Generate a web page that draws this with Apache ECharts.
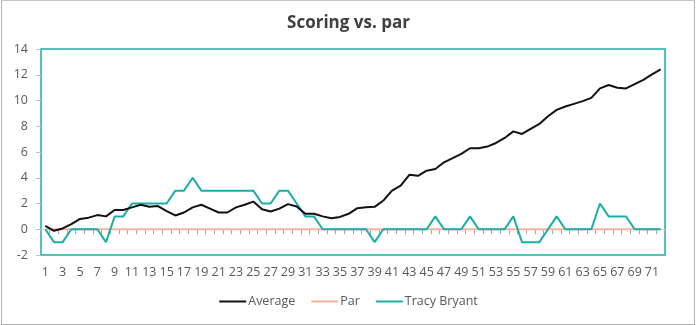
<!DOCTYPE html>
<html>
<head>
<meta charset="utf-8">
<script src="https://cdn.jsdelivr.net/npm/echarts@6/dist/echarts.min.js"></script>
<style>
  html, body { margin: 0; padding: 0; background: #fff; }
  #chart { width: 697px; height: 325px; }
  #frame { position: absolute; left: 1px; top: 0px; width: 694px; height: 325px; border: 1px solid #b0b0b0; border-top-color: #c8c8c8; pointer-events: none; box-sizing: border-box; }
</style>
</head>
<body>
<div id="chart"></div>
<div id="frame"></div>
<script>
// Holes 1..72
const holes = [];
for (let h = 1; h <= 72; h++) holes.push(String(h));

// Cumulative strokes relative to par
const average = [
  0.26, -0.12, 0.06, 0.4, 0.8, 0.9, 1.1, 1.0, 1.5, 1.5,
  1.7, 1.9, 1.75, 1.8, 1.4, 1.07, 1.3, 1.7, 1.9, 1.6,
  1.3, 1.3, 1.7, 1.9, 2.15, 1.55, 1.38, 1.6, 1.95, 1.77,
  1.2, 1.2, 1.0, 0.86, 0.96, 1.2, 1.64, 1.7, 1.74, 2.23,
  3.0, 3.38, 4.23, 4.15, 4.55, 4.68, 5.2, 5.53, 5.85, 6.29,
  6.29, 6.42, 6.7, 7.09, 7.6, 7.4, 7.8, 8.18, 8.78, 9.27,
  9.53, 9.74, 9.95, 10.2, 10.94, 11.2, 10.99, 10.94, 11.27, 11.6,
  12.03, 12.42
];
const par = holes.map(() => 0);
const tracyBryant = [
  0, -1, -1, 0, 0, 0, 0, -1, 1, 1,
  2, 2, 2, 2, 2, 3, 3, 4, 3, 3,
  3, 3, 3, 3, 3, 2, 2, 3, 3, 2,
  1, 1, 0, 0, 0, 0, 0, 0, -1, 0,
  0, 0, 0, 0, 0, 1, 0, 0, 0, 1,
  0, 0, 0, 0, 1, -1, -1, -1, 0, 1,
  0, 0, 0, 0, 2, 1, 1, 1, 0, 0,
  0, 0
];
const yTicks = { min: -2, max: 14, step: 2 };

const FONT = '"Open Sans", "Noto Sans", sans-serif';
const TEAL = '#1aaea8';
const SALMON = '#f6b5a3';
const GREY_TEXT = '#595959';

const chart = echarts.init(document.getElementById('chart'), null, { renderer: 'canvas' });
chart.setOption({
  animation: false,
  backgroundColor: '#ffffff',
  title: {
    text: 'Scoring vs. par',
    left: 'center',
    top: 10,
    textStyle: { fontFamily: FONT, fontSize: 17, fontWeight: 'bold', color: '#404040' }
  },
  legend: {
    bottom: 12,
    left: 'center',
    icon: 'rect',
    itemWidth: 27,
    itemHeight: 2,
    itemGap: 16,
    textStyle: { fontFamily: FONT, fontSize: 12.5, color: GREY_TEXT, padding: [0, 0, 0, -3] },
    data: ['Average', 'Par', 'Tracy Bryant']
  },
  grid: {
    left: 41, right: 32, top: 49, bottom: 70,
    show: true,
    borderColor: TEAL,
    borderWidth: 1.5,
    containLabel: false
  },
  xAxis: [
    {
      type: 'category',
      data: holes,
      boundaryGap: true,
      position: 'bottom',
      z: 5,
      axisLine: { show: true, onZero: true, lineStyle: { color: '#d0d0d0', width: 1 } },
      axisTick: { show: true, interval: 0, length: 5, lineStyle: { color: '#a8a8a8', width: 1 } },
      axisLabel: { show: false },
      splitLine: { show: false }
    },
    {
      type: 'category',
      data: holes,
      boundaryGap: true,
      position: 'bottom',
      axisLine: { show: false, onZero: false },
      axisTick: { show: false },
      axisLabel: { interval: 1, margin: 11, fontFamily: FONT, fontSize: 12.5, color: GREY_TEXT },
      splitLine: { show: false }
    }
  ],
  yAxis: {
    type: 'value',
    min: yTicks.min,
    max: yTicks.max,
    interval: yTicks.step,
    axisLine: { show: false },
    axisTick: { show: true, length: 5, lineStyle: { color: '#bfbfbf' } },
    axisLabel: { margin: 13, fontFamily: FONT, fontSize: 12.5, color: GREY_TEXT },
    splitLine: { show: false }
  },
  series: [
    {
      name: 'Par',
      type: 'line',
      data: par,
      symbol: 'none',
      lineStyle: { color: SALMON, width: 2 },
      itemStyle: { color: SALMON },
      z: 6
    },
    {
      name: 'Tracy Bryant',
      type: 'line',
      data: tracyBryant,
      symbol: 'none',
      lineStyle: { color: TEAL, width: 2 },
      itemStyle: { color: TEAL },
      z: 7
    },
    {
      name: 'Average',
      type: 'line',
      data: average,
      symbol: 'none',
      lineStyle: { color: '#111111', width: 2 },
      itemStyle: { color: '#111111' },
      z: 8
    }
  ]
});
</script>
</body>
</html>
